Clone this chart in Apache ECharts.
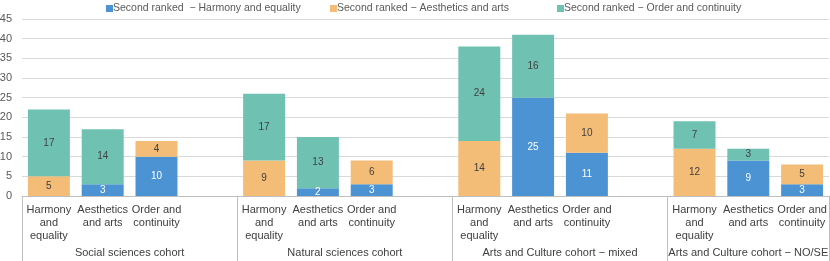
<!DOCTYPE html>
<html>
<head>
<meta charset="utf-8">
<style>html,body{margin:0;padding:0;background:#fff}#c{width:830px;height:261px}</style>
<script src="https://cdn.jsdelivr.net/npm/echarts@6/dist/echarts.min.js"></script>
</head>
<body>
<div id="c"></div>
<script>
const categories = ['Harmony\nand\nequality','Aesthetics\nand arts','Order and\ncontinuity','',
  'Harmony\nand\nequality','Aesthetics\nand arts','Order and\ncontinuity','',
  'Harmony\nand\nequality','Aesthetics\nand arts','Order and\ncontinuity','',
  'Harmony\nand\nequality','Aesthetics\nand arts','Order and\ncontinuity'];
const groupNames = ['Social sciences cohort','Natural sciences cohort','Arts and Culture cohort \u2212 mixed','Arts and Culture cohort \u2212 NO/SE'];
const groupCenters = [2, 6, 10, 13.5];
const groupBounds = [0, 4, 8, 12, 15];
const seriesNames = ['Second ranked  \u2212 Harmony and equality','Second ranked \u2212 Aesthetics and arts','Second ranked \u2212 Order and continuity'];
const harmony = [null,3,10,null, null,2,3,null, null,25,11,null, null,9,3];
const aesthetics = [5,null,4,null, 9,null,6,null, 14,null,10,null, 12,null,5];
const order = [17,14,null,null, 17,13,null,null, 24,16,null,null, 7,3,null];
const yTicks = {min:0, max:45, interval:5};

const colors = ['#4c93d3','#f3bc77','#6fc1b2'];
const labelColors = ['#ffffff','#404040','#404040'];
const font = 'Liberation Sans, Arial, sans-serif';
const values = [harmony, aesthetics, order];
const legendLefts = [101, 325, 552];

const chart = echarts.init(document.getElementById('c'), null, {renderer:'canvas'});
chart.setOption({
  animation:false,
  textStyle:{fontFamily:font},
  color:colors,
  legend: seriesNames.map((n,i)=>({
    top:-2, left:legendLefts[i], itemWidth:7, itemHeight:7, icon:'rect',
    textStyle:{fontSize:10.5, color:'#595959', fontFamily:font, padding:[0,0,0,-5]},
    data:[n]
  })),
  grid:{left:22, right:1, top:19, bottom:65, containLabel:false, outerBoundsMode:'none'},
  xAxis:[{
    type:'category', data:categories,
    axisLine:{lineStyle:{color:'#bfbfbf'}},
    axisTick:{show:false},
    axisLabel:{interval:0, fontSize:11, color:'#404040', lineHeight:13, margin:7, fontFamily:font}
  },{
    type:'value', min:0, max:15, position:'bottom',
    axisLine:{show:false},
    splitLine:{show:false},
    axisTick:{show:true, customValues:groupBounds, length:66, lineStyle:{color:'#bfbfbf'}},
    axisLabel:{customValues:groupCenters, margin:51, fontSize:11, color:'#404040', fontFamily:font,
      formatter:function(v){ const i = groupCenters.indexOf(v); return i>=0 ? groupNames[i] : ''; }}
  }],
  yAxis:{
    type:'value', min:yTicks.min, max:yTicks.max, interval:yTicks.interval,
    axisLine:{show:false}, axisTick:{show:false},
    axisLabel:{fontSize:11, color:'#595959', margin:10, fontFamily:font},
    splitLine:{lineStyle:{color:'#d9d9d9'}}
  },
  series: seriesNames.map((n,i)=>({
    name:n, type:'bar', stack:'s', xAxisIndex:0, barWidth:'78%',
    data:values[i],
    itemStyle:{color:colors[i]},
    label:{show:true, position:'inside', fontSize:10, color:labelColors[i], fontFamily:font}
  }))
});
</script>
</body>
</html>
